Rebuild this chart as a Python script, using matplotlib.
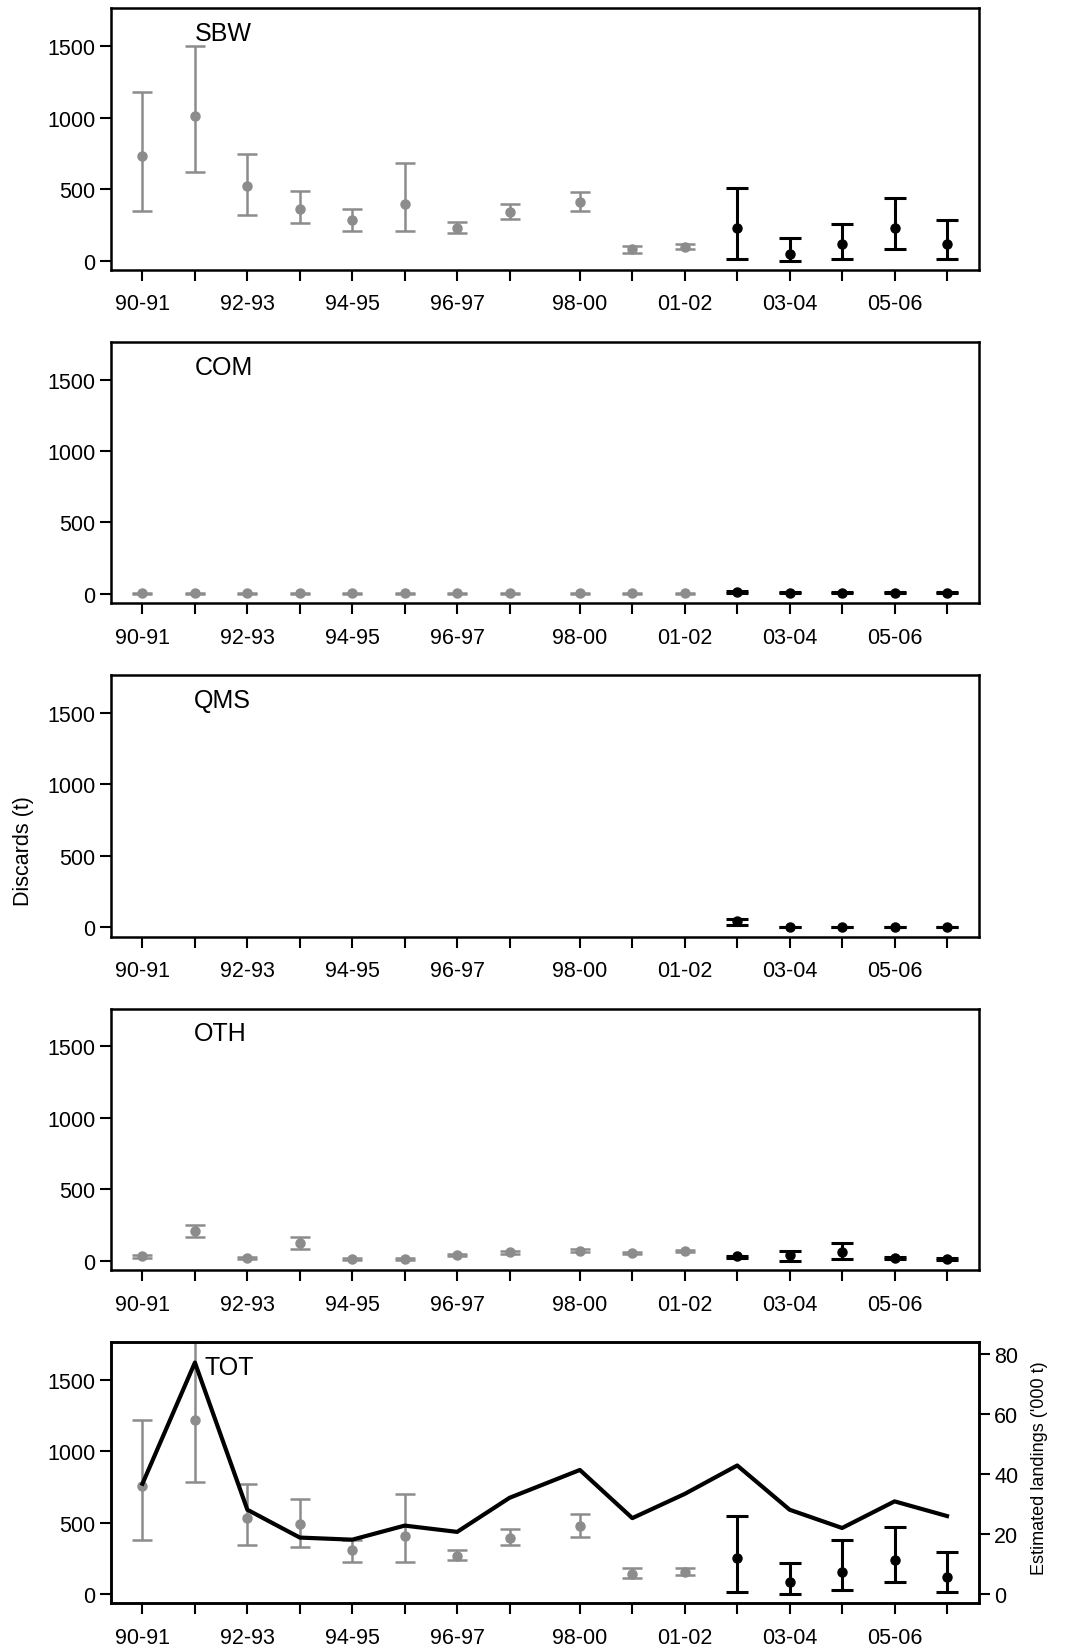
import numpy as np
import matplotlib
matplotlib.use("Agg")
import matplotlib.pyplot as plt

plt.rcParams["font.family"] = ["Liberation Sans", "DejaVu Sans"]

# fishing years (98-00 spans a longer period, so the axis has an extra gap there)
xpos = [0, 1, 2, 3, 4, 5, 6, 7, 8.34, 9.34, 10.34, 11.34, 12.34, 13.34, 14.34, 15.34]
xlabels = ["90-91", "", "92-93", "", "94-95", "", "96-97", "", "98-00", "",
           "01-02", "", "03-04", "", "05-06", ""]
n_old = 11  # first 11 years (grey), last 5 years (black)

nan = np.nan
sbw_est = [731, 1013, 518, 363, 281, 394, 225, 338, 408, 82, 98, 225, 47, 113, 225, 113]
sbw_lo = [349, 616, 321, 265, 209, 209, 192, 291, 349, 52, 80, 12, 0, 12, 82, 12]
sbw_hi = [1177, 1498, 743, 488, 363, 684, 267, 394, 476, 101, 117, 504, 155, 253, 434, 281]

com_est = [5, 5, 5, 5, 5, 5, 5, 5, 5, 5, 5, 12, 8, 8, 8, 8]
com_lo = [2, 2, 2, 2, 2, 2, 2, 2, 2, 2, 2, 3, 4, 4, 4, 4]
com_hi = [8, 8, 8, 8, 8, 8, 8, 8, 8, 8, 8, 22, 12, 12, 12, 12]

qms_est = [nan] * 11 + [45, 2, 2, 2, 2]
qms_lo = [nan] * 11 + [15, 0, 0, 0, 0]
qms_hi = [nan] * 11 + [58, 4, 4, 4, 4]

oth_est = [30, 207, 16, 123, 12, 12, 40, 58, 70, 53, 65, 30, 40, 58, 19, 12]
oth_lo = [20, 165, 10, 81, 5, 5, 30, 50, 60, 45, 58, 20, 0, 12, 12, 5]
oth_hi = [40, 249, 25, 163, 20, 20, 45, 65, 81, 62, 72, 35, 70, 123, 25, 18]

tot_est = [757, 1221, 534, 492, 307, 406, 270, 394, 478, 138, 152, 251, 84, 152, 239, 122]
tot_lo = [380, 785, 347, 333, 223, 223, 237, 347, 403, 110, 134, 12, 0, 28, 82, 12]
tot_hi = [1219, 1765, 771, 668, 382, 698, 309, 459, 558, 181, 181, 544, 220, 377, 473, 293]

landings = [36.7, 77.2, 28.0, 18.7, 18.0, 22.7, 20.6, 32.0, 41.3, 25.2, 33.3, 42.8, 28.0, 21.9, 30.8, 25.9]

panels = [
    ("SBW", sbw_est, sbw_lo, sbw_hi),
    ("COM", com_est, com_lo, com_hi),
    ("QMS", qms_est, qms_lo, qms_hi),
    ("OTH", oth_est, oth_lo, oth_hi),
    ("TOT", tot_est, tot_lo, tot_hi),
]

GREY = "#8c8c8c"
FS = 15.5
W, H = 1068, 1649

fig = plt.figure(figsize=(W / 100, H / 100), dpi=100)
fig.patch.set_facecolor("white")

for i, (name, est, lo, hi) in enumerate(panels):
    top = 9.3 + 333.4 * i
    h = 261.5
    ax = fig.add_axes([111 / W, 1 - (top + h) / H, 868 / W, h / H])

    est = np.array(est, dtype=float)
    lo = np.array(lo, dtype=float)
    hi = np.array(hi, dtype=float)
    x = np.array(xpos)

    for sl, col, lw, cs in [(slice(0, n_old), GREY, 1.8, 7.5),
                            (slice(n_old, None), "black", 2.2, 8.0)]:
        e = est[sl]
        ax.errorbar(x[sl], e, yerr=[e - lo[sl], hi[sl] - e], fmt="o",
                    color=col, ms=6.5, elinewidth=lw, capsize=cs, capthick=lw)

    ax.set_xlim(-0.6, 15.95)
    ax.set_ylim(-65, 1765)
    ax.set_yticks([0, 500, 1000, 1500])
    ax.set_xticks(xpos)
    ax.set_xticklabels(xlabels)
    ax.tick_params(axis="both", direction="out", length=8, width=1.5,
                   labelsize=FS, colors="black")
    ax.tick_params(axis="x", pad=9)
    ax.tick_params(axis="y", pad=3)
    for sp in ax.spines.values():
        sp.set_linewidth(1.8)

    tx = 0.108 if name == "TOT" else 0.096
    ax.text(tx, 0.905, name, transform=ax.transAxes, fontsize=18,
            ha="left", va="center")

    if name == "TOT":
        ax2 = ax.twinx()
        ax2.plot(xpos, landings, color="black", lw=3)
        ax2.set_ylim(-3.3, 84.1)
        ax2.set_yticks([0, 20, 40, 60, 80])
        ax2.tick_params(axis="y", direction="out", length=8, width=1.5,
                        labelsize=FS, pad=3)
        for sp in ax2.spines.values():
            sp.set_linewidth(1.8)

fig.text(23 / W, 1 - 851 / H, "Discards (t)", rotation=90, ha="center",
         va="center", fontsize=FS)
fig.text(1040 / W, 1 - 1468 / H, "Estimated landings ('000 t)", rotation=90,
         ha="center", va="center", fontsize=13)

fig.savefig("out.png", dpi=100, facecolor="white")
